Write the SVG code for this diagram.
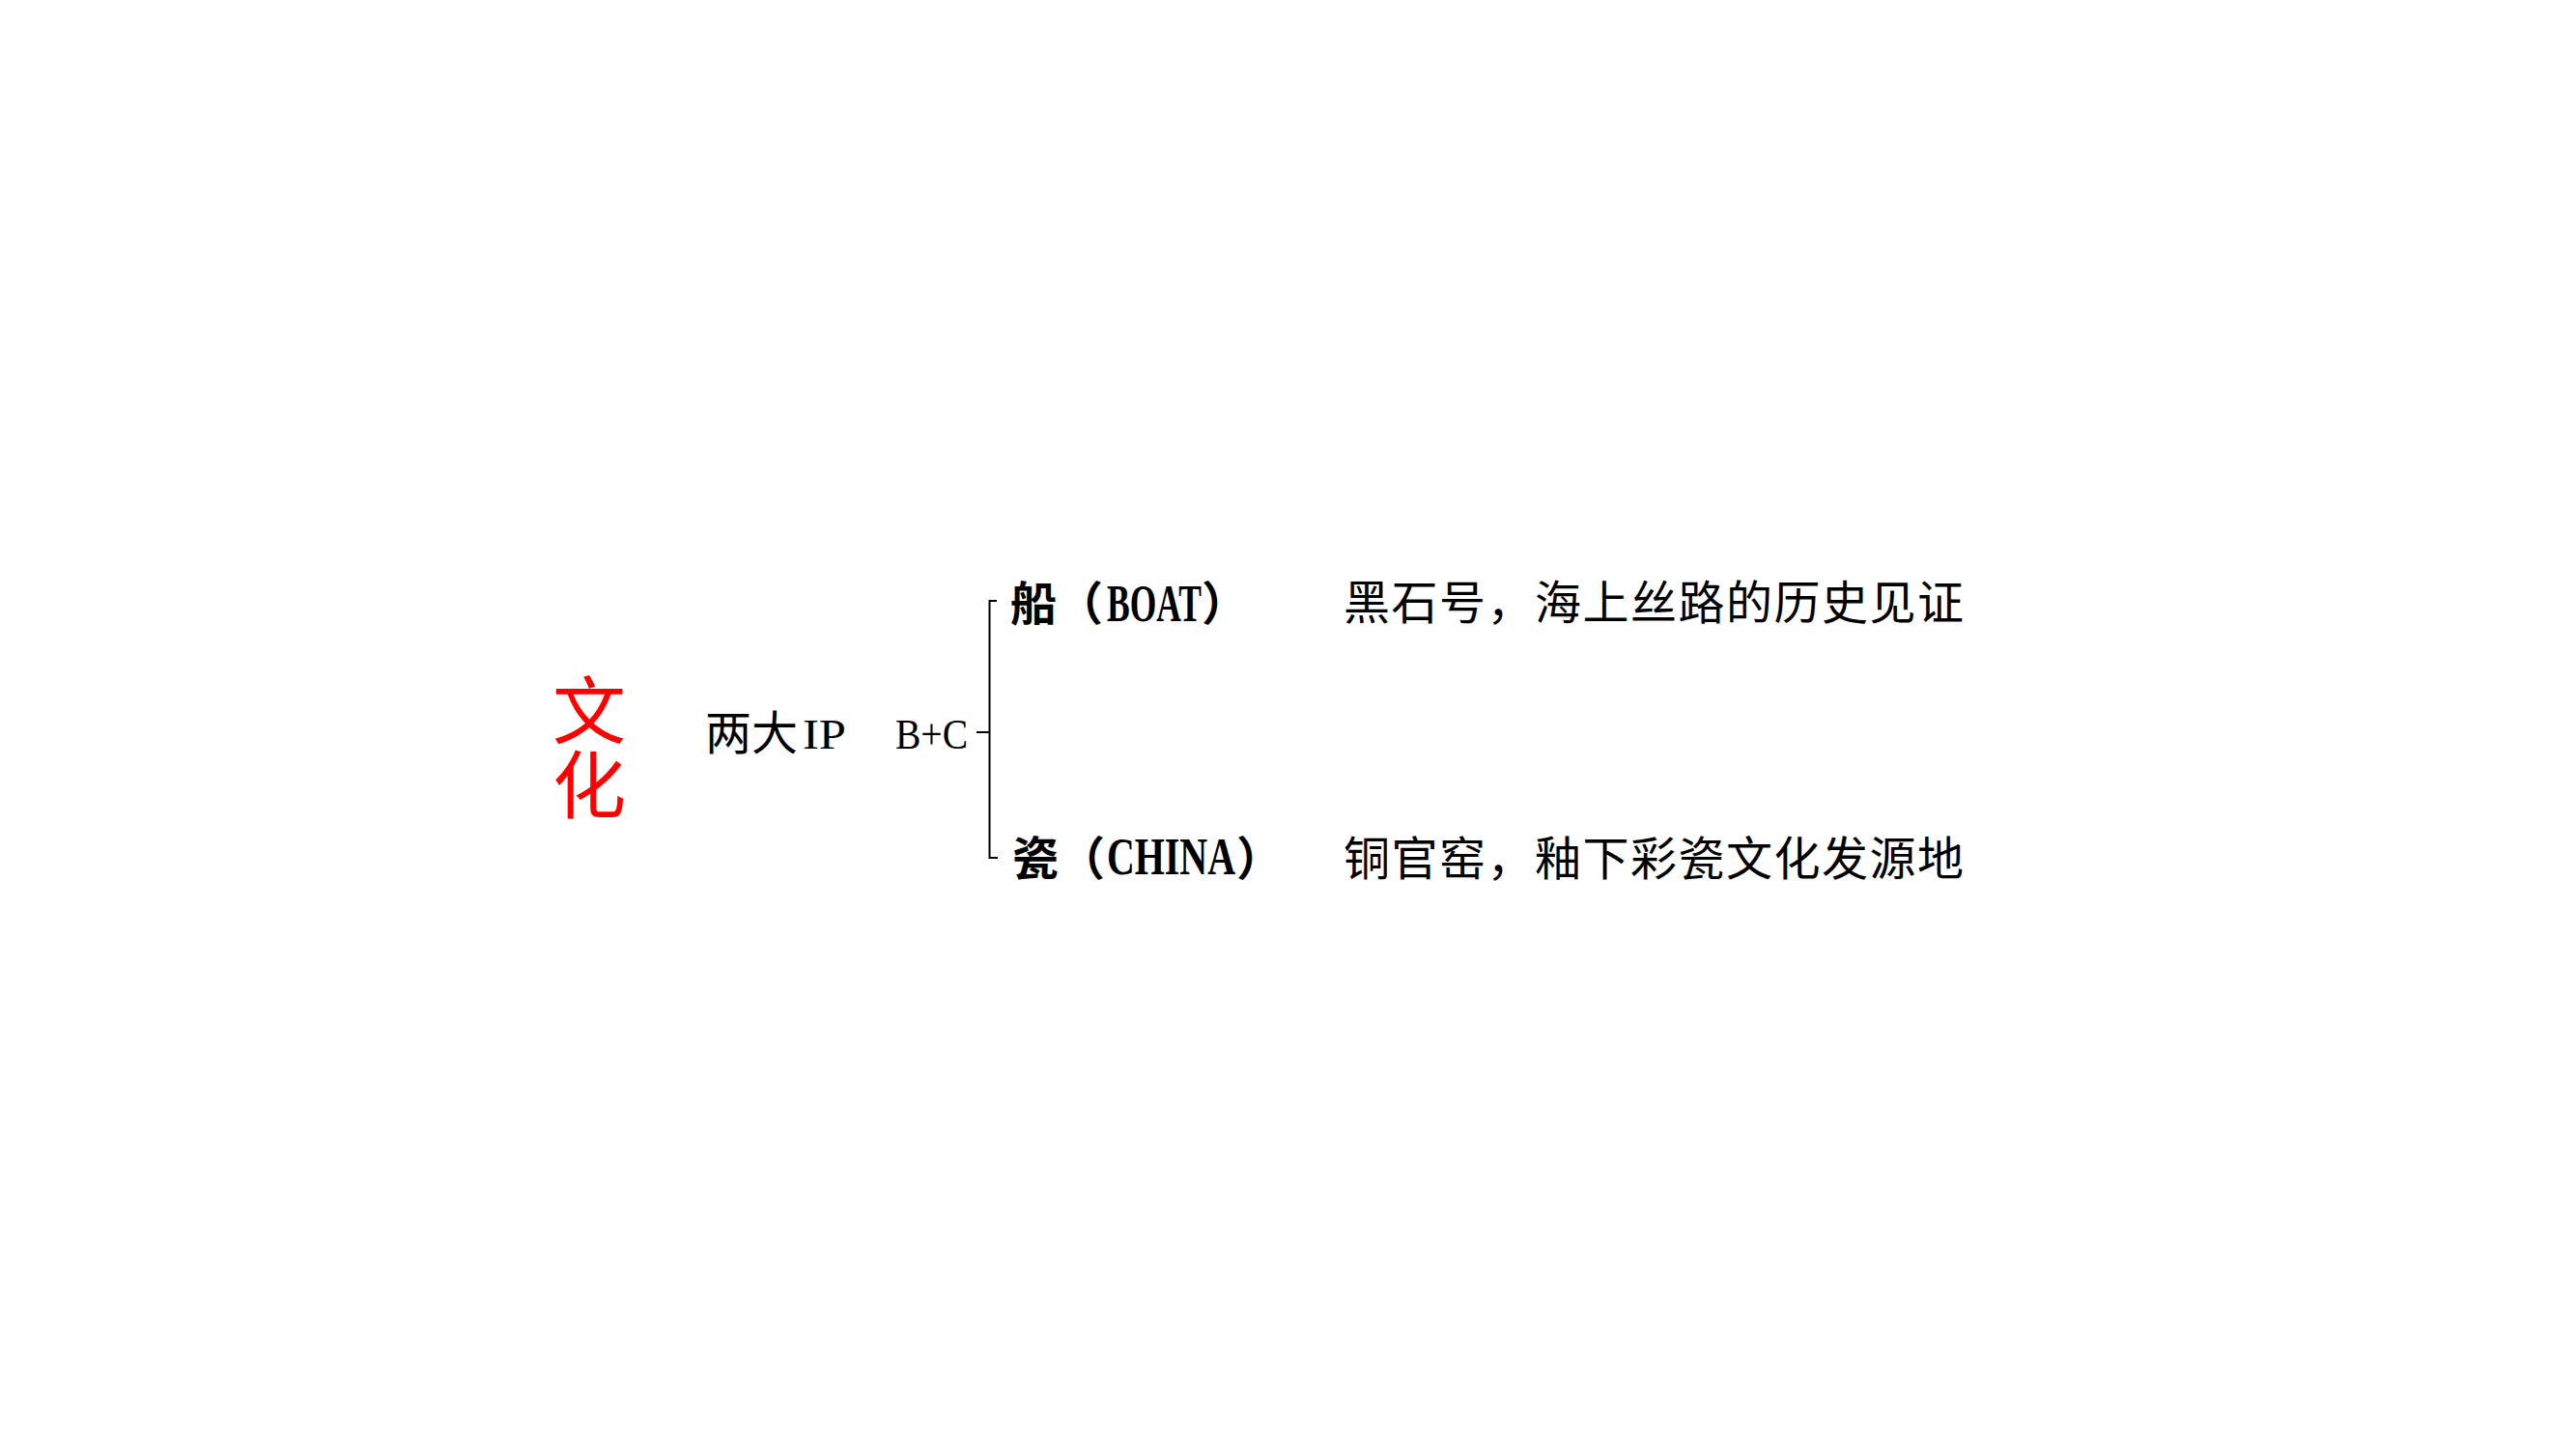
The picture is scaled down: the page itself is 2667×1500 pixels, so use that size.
<svg xmlns="http://www.w3.org/2000/svg" width="2667" height="1500" viewBox="0 0 2667 1500">
<style>
.cjk{font-family:"Noto Sans CJK SC","Liberation Serif",sans-serif;fill:#000;font-size:48px}
.lat{font-family:"Liberation Serif","Noto Sans CJK SC",serif;font-size:44px}
.blat{font-family:"Liberation Serif","Noto Sans CJK SC",serif;font-size:54px}
.b{font-weight:bold}
.red{fill:#FF0000;font-size:76px}
.desc{letter-spacing:1.5px}
.conn{fill:none;stroke:#000;stroke-width:2}
</style>
<rect width="2667" height="1500" fill="#FFFFFF"/>
<g id="culture">
<text class="cjk red"><tspan x="572" y="764">文</tspan><tspan x="572" y="841">化</tspan></text>
</g>
<g id="two-ip">
<text class="cjk" x="730" y="776">两大<tspan class="lat" x="831" y="775" textLength="45" lengthAdjust="spacingAndGlyphs">IP</tspan></text>
</g>
<g id="bc">
<text class="lat" x="927" y="775" textLength="75" lengthAdjust="spacingAndGlyphs">B+C</text>
</g>
<g id="connectors">
<path class="conn" d="M1032,622 H1024.5 V888 H1033"/>
<path class="conn" d="M1011,758 H1024.5"/>
</g>
<g id="boat">
<text class="cjk b" x="1046" y="642">船（<tspan class="blat" x="1146" y="643" textLength="98" lengthAdjust="spacingAndGlyphs">BOAT</tspan><tspan x="1244" y="642">）</tspan></text>
</g>
<g id="boat-desc">
<text class="cjk desc" x="1391" y="641">黑石号，海上丝路的历史见证</text>
</g>
<g id="china">
<text class="cjk b" x="1048" y="906">瓷（<tspan class="blat" x="1146" y="905" textLength="133" lengthAdjust="spacingAndGlyphs">CHINA</tspan><tspan x="1280" y="906">）</tspan></text>
</g>
<g id="china-desc">
<text class="cjk desc" x="1391" y="906">铜官窑，釉下彩瓷文化发源地</text>
</g>
</svg>
